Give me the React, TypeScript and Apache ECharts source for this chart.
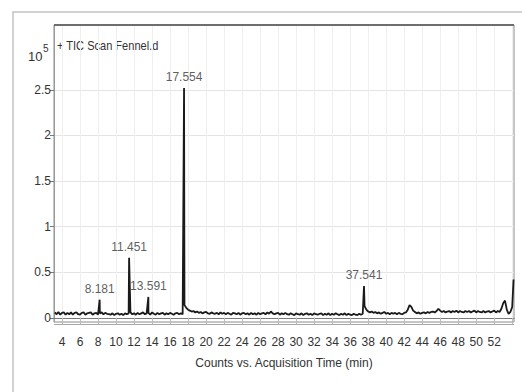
import React, { useEffect, useRef } from "react";
import * as echarts from "echarts";

// ---- data (counts in units of 10^5) ----
const sampleStart = 3.2; // min
const sampleStep = 0.2; // min
const baselineCounts = [
  0.06, 0.04, 0.065, 0.035, 0.055, 0.06, 0.035, 0.055, 0.04, 0.06,
  0.035, 0.055, 0.06, 0.04, 0.035, 0.055, 0.06, 0.035, 0.05, 0.055,
  0.06, 0.035, 0.05, 0.055, 0.035, 0.05, 0.06, 0.04, 0.055, 0.045,
  0.04, 0.035, 0.05, 0.03, 0.045, 0.05, 0.035, 0.045, 0.03, 0.05,
  0.04, 0.05, 0.06, 0.04, 0.05, 0.035, 0.055, 0.04, 0.05, 0.06,
  0.04, 0.05, 0.055, 0.035, 0.06, 0.045, 0.035, 0.055, 0.04, 0.05,
  0.055, 0.035, 0.05, 0.04, 0.055, 0.045, 0.035, 0.05, 0.055, 0.04,
  0.05, 0.04, 0.14, 0.11, 0.09, 0.08, 0.07, 0.075, 0.06, 0.07,
  0.055, 0.065, 0.05, 0.06, 0.065, 0.05, 0.045, 0.06, 0.05, 0.045,
  0.055, 0.04, 0.06, 0.045, 0.055, 0.04, 0.055, 0.045, 0.035, 0.055,
  0.05, 0.04, 0.055, 0.035, 0.05, 0.055, 0.04, 0.05, 0.035, 0.055,
  0.04, 0.05, 0.035, 0.055, 0.04, 0.05, 0.055, 0.04, 0.06, 0.045,
  0.07, 0.05, 0.04, 0.05, 0.055, 0.035, 0.05, 0.04, 0.055, 0.04,
  0.035, 0.05, 0.04, 0.03, 0.05, 0.04, 0.035, 0.05, 0.03, 0.045,
  0.05, 0.035, 0.045, 0.03, 0.05, 0.04, 0.035, 0.045, 0.05, 0.03,
  0.045, 0.035, 0.05, 0.03, 0.045, 0.035, 0.05, 0.04, 0.03, 0.045,
  0.035, 0.05, 0.03, 0.045, 0.035, 0.03, 0.045, 0.035, 0.03, 0.045,
  0.035, 0.045, 0.13, 0.09, 0.07, 0.06, 0.07, 0.055, 0.065, 0.05,
  0.06, 0.045, 0.055, 0.065, 0.045, 0.055, 0.04, 0.055, 0.045, 0.055,
  0.04, 0.055, 0.045, 0.04, 0.055, 0.06, 0.09, 0.14, 0.12, 0.08,
  0.065, 0.05, 0.06, 0.045, 0.055, 0.06, 0.05, 0.065, 0.055, 0.065,
  0.07, 0.06, 0.075, 0.1, 0.08, 0.065, 0.075, 0.06, 0.07, 0.075,
  0.06, 0.075, 0.065, 0.08, 0.06, 0.075, 0.065, 0.06, 0.075, 0.065,
  0.075, 0.06, 0.07, 0.08, 0.06, 0.075, 0.065, 0.06, 0.075, 0.06,
  0.07, 0.075, 0.06, 0.07, 0.08, 0.06, 0.075, 0.065, 0.1, 0.16,
  0.19, 0.09, 0.045, 0.065, 0.12,
];
const labeledPeakTimes = [8.181, 11.451, 13.591, 17.554, 37.541];
const labeledPeakCounts = [0.2, 0.66, 0.23, 2.52, 0.35];
const endTimes = [54.15];
const endCounts = [0.42];

const xTickValues = [4, 6, 8, 10, 12, 14, 16, 18, 20, 22, 24, 26, 28, 30, 32, 34, 36, 38, 40, 42, 44, 46, 48, 50, 52, 54];
const xLabelValues = [4, 6, 8, 10, 12, 14, 16, 18, 20, 22, 24, 26, 28, 30, 32, 34, 36, 38, 40, 42, 44, 46, 48, 50, 52];
const yTickValues = [0, 0.5, 1, 1.5, 2, 2.5];

const title = "+ TIC Scan Fennel.d";
const xAxisName = "Counts vs. Acquisition Time (min)";

const FONT = '"Liberation Sans", Arial, sans-serif';

export default function App() {
  const ref = useRef<HTMLDivElement>(null);
  useEffect(() => {
    if (!ref.current) return;
    const chart = echarts.init(ref.current, null, { renderer: "svg" });

    const points: [number, number][] = baselineCounts.map((v, i) => [
      Math.round((sampleStart + i * sampleStep) * 100) / 100,
      v,
    ]);
    labeledPeakTimes.forEach((t, i) => points.push([t, labeledPeakCounts[i]]));
    endTimes.forEach((t, i) => points.push([t, endCounts[i]]));
    points.sort((a, b) => a[0] - b[0]);

    const peaks = labeledPeakTimes.map((t, i) => [t, labeledPeakCounts[i]]);

    chart.setOption({
      animation: false,
      backgroundColor: "#ffffff",
      textStyle: { fontFamily: FONT },
      grid: {
        left: 54,
        right: 8,
        top: 25,
        bottom: 70,
        show: true,
        borderColor: "#8c8c8c",
        borderWidth: 1,
      },
      xAxis: {
        type: "value",
        min: 3.11,
        max: 54.2,
        name: xAxisName,
        nameLocation: "middle",
        nameGap: 35,
        nameTextStyle: { fontSize: 12, color: "#333", fontFamily: FONT },
        axisLine: { show: true, lineStyle: { color: "#7a7a7a", width: 1 } },
        axisTick: {
          show: true,
          customValues: xTickValues,
          length: 7,
          lineStyle: { color: "#bbbbbb" },
        },
        axisLabel: {
          customValues: xLabelValues,
          fontSize: 12,
          color: "#333",
          margin: 14,
          fontFamily: FONT,
        },
        splitLine: { show: true, lineStyle: { color: "#efefef", width: 1 } },
      },
      yAxis: {
        type: "value",
        min: -0.045,
        max: 3.21,
        axisLine: { show: true, lineStyle: { color: "#9a9a9a" } },
        axisTick: {
          show: true,
          customValues: yTickValues,
          length: 4,
          lineStyle: { color: "#777" },
        },
        axisLabel: {
          customValues: yTickValues,
          fontSize: 12,
          color: "#333",
          margin: 3,
          fontFamily: FONT,
        },
        splitLine: { show: true, lineStyle: { color: "#e4e4e4", width: 1 } },
      },
      series: [
        {
          type: "line",
          data: points,
          showSymbol: false,
          symbol: "none",
          lineStyle: { color: "#1a1a1a", width: 1.8 },
          z: 3,
        },
        {
          type: "scatter",
          data: peaks,
          symbolSize: 0,
          itemStyle: { color: "rgba(0,0,0,0)" },
          label: {
            show: true,
            position: "top",
            distance: 5,
            fontSize: 12,
            color: "#333",
            fontFamily: FONT,
            formatter: (p: any) => p.value[0].toFixed(3),
          },
          z: 4,
        },
      ],
      graphic: [
        {
          type: "rect",
          shape: { x: 13, y: 12, width: 530, height: 400 },
          style: { fill: "none", stroke: "#c4c4c4", lineWidth: 1.5 },
          silent: true,
          z: -1,
        },
        {
          type: "line",
          shape: { x1: 54, y1: 25, x2: 514, y2: 25 },
          style: { stroke: "#6e6e6e", lineWidth: 2 },
          z: 10,
        },
        {
          type: "line",
          shape: { x1: 54, y1: 324.5, x2: 514, y2: 324.5 },
          style: { stroke: "#a8a8a8", lineWidth: 1 },
          z: 10,
        },
        {
          type: "text",
          x: 57,
          y: 46,
          scaleX: 0.85,
          style: {
            text: title,
            fontSize: 13,
            fill: "#333",
            fontFamily: FONT,
            verticalAlign: "middle",
          },
        },
        {
          type: "text",
          x: 28,
          y: 56,
          style: {
            text: "10",
            fontSize: 13,
            fill: "#333",
            fontFamily: FONT,
            verticalAlign: "middle",
          },
        },
        {
          type: "text",
          x: 43,
          y: 48,
          style: {
            text: "5",
            fontSize: 10,
            fill: "#333",
            fontFamily: FONT,
            verticalAlign: "middle",
          },
        },
      ],
    });
    return () => chart.dispose();
  }, []);
  return (
    <div
      ref={ref}
      style={{ position: "fixed", left: 0, top: 0, width: 522, height: 392 }}
    />
  );
}
